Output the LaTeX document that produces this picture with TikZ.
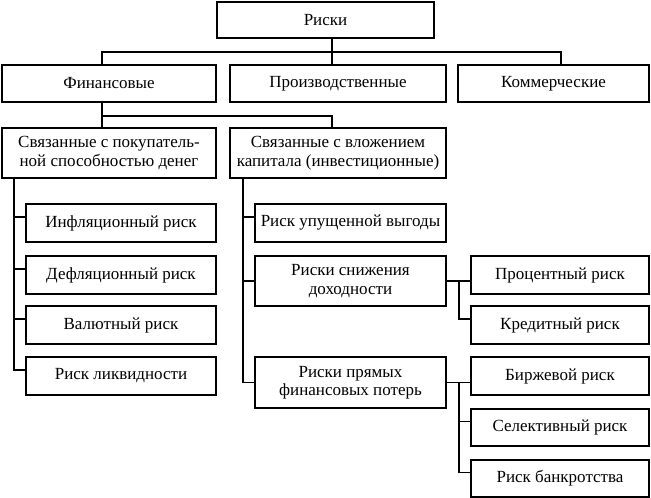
\documentclass[tikz,border=0pt]{standalone}
\usepackage{fontspec}
\setmainfont{Liberation Serif}
\begin{document}
\begin{tikzpicture}[x=1pt,y=-1pt,
  box/.style={draw, line width=1.1pt, inner sep=0pt, align=center,
    font=\fontsize{17}{18.5}\selectfont},
  conn/.style={line width=1.1pt}]
\useasboundingbox (0,0) rectangle (651,498);
\newcommand{\bx}[6]{\node[box, minimum width={#3-#2}, minimum height={#5-#4}]
  (#1) at ({(#2+#3)/2},{(#4+#5)/2}) {#6};}
\bx{risk}{217}{434}{2}{38}{Риски}
\bx{fin}{2}{216}{65}{102}{Финансовые}
\bx{prod}{230}{446}{65}{102}{Производственные}
\bx{comm}{458}{649}{65}{102}{Коммерческие}
\bx{pok}{2}{216}{128}{178}{Связанные с покупатель-\\ной способностью денег}
\bx{inv}{230}{446}{128}{178}{Связанные с вложением\\капитала (инвестиционные)}
\bx{infl}{26}{216}{204}{242}{Инфляционный риск}
\bx{defl}{26}{216}{256}{294}{Дефляционный риск}
\bx{val}{26}{216}{306}{344}{Валютный риск}
\bx{liq}{26}{216}{357}{395}{Риск ликвидности}
\bx{upu}{255}{446}{204}{242}{Риск упущенной выгоды}
\bx{snij}{255}{446}{256}{306}{Риски снижения\\доходности}
\bx{pryam}{255}{446}{357}{408}{Риски прямых\\финансовых потерь}
\bx{proc}{471}{649}{256}{294}{Процентный риск}
\bx{kred}{471}{649}{306}{344}{Кредитный риск}
\bx{birj}{471}{649}{357}{395}{Биржевой риск}
\bx{sel}{471}{649}{409}{446}{Селективный риск}
\bx{bank}{471}{649}{460}{497}{Риск банкротства}
\coordinate (c1) at (332,52);
\coordinate (c0) at (102,52);
\coordinate (c2) at (561,52);
\coordinate (d1) at (102,116);
\coordinate (d2) at (332,116);
\coordinate (ls) at (14,0);
\coordinate (rs) at (243,0);
\coordinate (bs) at (459,0);
% level 1
\draw[conn] (risk.south -| c1) -- (prod.north -| c1);
\draw[conn] (fin.north -| c0) |- (c1) -| (comm.north -| c2);
% level 2
\draw[conn] (fin.south -| d1) -- (pok.north -| d1);
\draw[conn] (d1) -- (d2) -- (inv.north -| d2);
% left spine
\draw[conn] (pok.south -| ls) |- ([yshift=6pt]liq.west);
\foreach \n in {infl,defl,val} \draw[conn] ([yshift=6pt]\n.west) -- ([yshift=6pt]\n.west -| ls);
% right spine
\draw[conn] (inv.south -| rs) |- (pryam.west);
\draw[conn] ([yshift=6pt]upu.west) -- ([yshift=6pt]upu.west -| rs);
\draw[conn] (snij.west) -- (snij.west -| rs);
% sub-buses
\draw[conn] (snij.east) -- (snij.east -| proc.west);
\draw[conn] (snij.east -| bs) |- ([yshift=6pt]kred.west);
\draw[conn] (pryam.east) -- (pryam.east -| birj.west);
\draw[conn] (pryam.east -| bs) |- ([yshift=6pt]bank.west);
\draw[conn] ([yshift=6pt]sel.west) -- ([yshift=6pt]sel.west -| bs);
\end{tikzpicture}
\end{document}
